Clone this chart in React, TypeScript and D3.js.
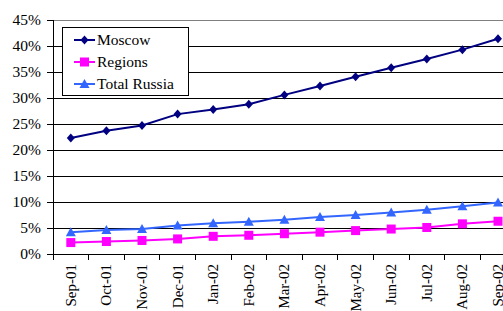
import React from "react";
import * as d3 from "d3";

const categories = ["Sep-01","Oct-01","Nov-01","Dec-01","Jan-02","Feb-02","Mar-02","Apr-02","May-02","Jun-02","Jul-02","Aug-02","Sep-02"];
const moscow = [22.3,23.7,24.7,26.9,27.8,28.8,30.6,32.3,34.1,35.8,37.5,39.3,41.4];
const regions = [2.2,2.4,2.6,2.9,3.4,3.6,3.9,4.2,4.5,4.8,5.1,5.8,6.3];
const totalRussia = [4.2,4.6,4.8,5.5,5.9,6.2,6.6,7.1,7.5,8.0,8.5,9.2,9.9];
const yTicks = [0,5,10,15,20,25,30,35,40,45];
const seriesNames = ["Moscow","Regions","Total Russia"];

const W = 503, H = 311;
const left = 53, top = 20, bottom = 254;
const band = 35.6;

export default function App() {
  const x = d3.scaleBand<string>().domain(categories).range([left, left + band * categories.length]);
  const y = d3.scaleLinear().domain([0, 45]).range([bottom, top]);
  const fontStyle = { fontFamily: "'Liberation Serif', 'Times New Roman', Times, serif" };
  const series = [
    { name: seriesNames[0], data: moscow, color: "#000080", shape: "diamond" },
    { name: seriesNames[1], data: regions, color: "#FF00FF", shape: "square" },
    { name: seriesNames[2], data: totalRussia, color: "#3366FF", shape: "triangle" },
  ];
  const marker = (shape: string, cx: number, cy: number, color: string, key: any) => {
    if (shape === "diamond") {
      return <path key={key} d={`M${cx},${cy - 4.5}L${cx + 4},${cy}L${cx},${cy + 4.5}L${cx - 4},${cy}Z`} fill={color} />;
    }
    if (shape === "square") {
      return <rect key={key} x={cx - 4.5} y={cy - 4.5} width={9} height={9} fill={color} />;
    }
    return <path key={key} d={`M${cx},${cy - 5}L${cx + 5},${cy + 4}L${cx - 5},${cy + 4}Z`} fill={color} />;
  };
  const cx = (i: number) => (x(categories[i]) as number) + x.bandwidth() / 2;
  return (
    <svg width={W} height={H} style={{ position: "absolute", left: 0, top: 0, background: "#fff" }}>
      {yTicks.map((t) => (
        <g key={t}>
          <line x1={left - 6} x2={W} y1={y(t)} y2={y(t)} stroke={t === 45 ? "#808080" : "#000"} strokeWidth={1} shapeRendering="crispEdges" />
          <line x1={left - 6} x2={left} y1={y(t)} y2={y(t)} stroke="#000" shapeRendering="crispEdges" />
          <text x={41} y={y(t) + 5} textAnchor="end" style={fontStyle} fontSize={15.5} fill="#000">{t}%</text>
        </g>
      ))}
      <line x1={left} x2={left} y1={top} y2={bottom} stroke="#000" shapeRendering="crispEdges" />
      {categories.map((c, i) => (
        <g key={c}>
          <line x1={(x(c) as number)} x2={(x(c) as number)} y1={bottom} y2={bottom + 6} stroke="#000" shapeRendering="crispEdges" />
          <text transform={`translate(${cx(i) + 5},${bottom + 10}) rotate(-90)`} textAnchor="end" style={fontStyle} fontSize={15} fill="#000">{c}</text>
        </g>
      ))}
      {series.map((s) => {
        const line = d3.line<number>().x((_, i) => cx(i)).y((v) => y(v));
        return (
          <g key={s.name}>
            <path d={line(s.data) || ""} fill="none" stroke={s.color} strokeWidth={2} />
            {s.data.map((v, i) => marker(s.shape, cx(i), y(v), s.color, i))}
          </g>
        );
      })}
      <rect x={62.5} y={27.5} width={126} height={68} fill="#fff" stroke="#000" strokeWidth={1} />
      {series.map((s, i) => {
        const ly = 40 + i * 22;
        return (
          <g key={s.name}>
            <line x1={74} x2={95} y1={ly} y2={ly} stroke={s.color} strokeWidth={2} />
            {marker(s.shape, 84.5, ly, s.color, "m")}
            <text x={97} y={ly + 5} style={fontStyle} fontSize={15.5} fill="#000">{s.name}</text>
          </g>
        );
      })}
    </svg>
  );
}
